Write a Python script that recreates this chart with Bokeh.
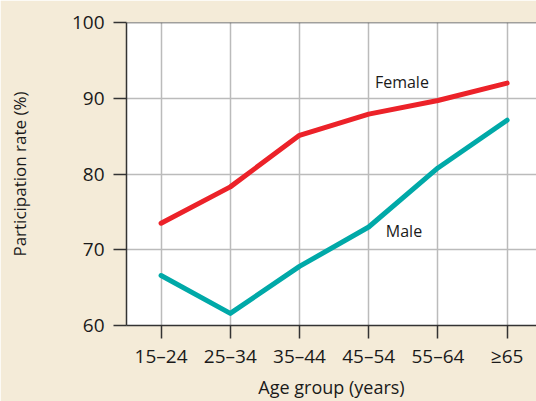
from bokeh.plotting import figure
from bokeh.embed import file_html
from bokeh.resources import INLINE
from bokeh.models import FixedTicker, Span, Label

categories = ["15\u201324", "25\u201334", "35\u201344", "45\u201354", "55\u201364", "\u226565"]
female = [73.5, 78.3, 85.1, 87.9, 89.7, 92.0]
male = [66.6, 61.6, 67.8, 73.0, 80.8, 87.1]
series_labels = ["Female", "Male"]
label_pos_x = [3.48, 3.51]
label_pos_y = [92.1, 72.5]
y_ticks = [60, 70, 80, 90, 100]
x_title = "Age group (years)"
y_title = "Participation rate (%)"

FONT = "Open Sans"
BG = "#F4EBD8"
TXT = "#1a1a1a"
xs = list(range(len(categories)))

p = figure(width=536, height=401, output_backend="svg", toolbar_location=None,
           x_range=(-0.5, 5.425), y_range=(60, 100),
           min_border_left=126, min_border_right=0, min_border_top=22, min_border_bottom=76)
p.border_fill_color = BG
p.background_fill_color = "white"
p.outline_line_color = None

p.line(xs, female, line_color="#EC2229", line_width=5, line_cap="round", line_join="round")
p.line(xs, male, line_color="#00A9A8", line_width=5, line_cap="round", line_join="round")

for t, lx, ly in zip(series_labels, label_pos_x, label_pos_y):
    p.add_layout(Label(x=lx, y=ly, text=t, text_font=FONT, text_font_size="16px",
                       text_color=TXT, text_align="center", text_baseline="middle"))

p.add_layout(Span(location=100, dimension="width", line_color="#444444", line_width=1.5))

p.xaxis.ticker = FixedTicker(ticks=xs)
p.xaxis.major_label_overrides = {i: c for i, c in enumerate(categories)}
p.yaxis.ticker = FixedTicker(ticks=y_ticks)

for ax in (p.xaxis, p.yaxis):
    ax.axis_line_color = "#333333"
    ax.axis_line_width = 1.5
    ax.major_tick_line_color = "#333333"
    ax.major_tick_line_width = 1.5
    ax.major_tick_out = 13
    ax.major_tick_in = 0
    ax.minor_tick_line_color = None
    ax.major_label_text_font = FONT
    ax.major_label_text_font_size = "19px"
    ax.major_label_text_color = TXT
    ax.axis_label_text_font = FONT
    ax.axis_label_text_font_size = "17px"
    ax.axis_label_text_font_style = "normal"
    ax.axis_label_text_color = TXT

p.xaxis.axis_label = x_title
p.xaxis.axis_label_text_font_size = "18px"
p.yaxis.axis_label = y_title
p.xaxis.major_label_standoff = 4
p.xaxis.axis_label_standoff = 3
p.yaxis.major_label_standoff = 9
p.yaxis.axis_label_standoff = 38

p.xgrid.grid_line_color = "#BBBBBB"
p.xgrid.grid_line_width = 1.5
p.ygrid.grid_line_color = "#BBBBBB"
p.ygrid.grid_line_width = 1.5

open("out.html", "w").write(file_html(p, INLINE))
